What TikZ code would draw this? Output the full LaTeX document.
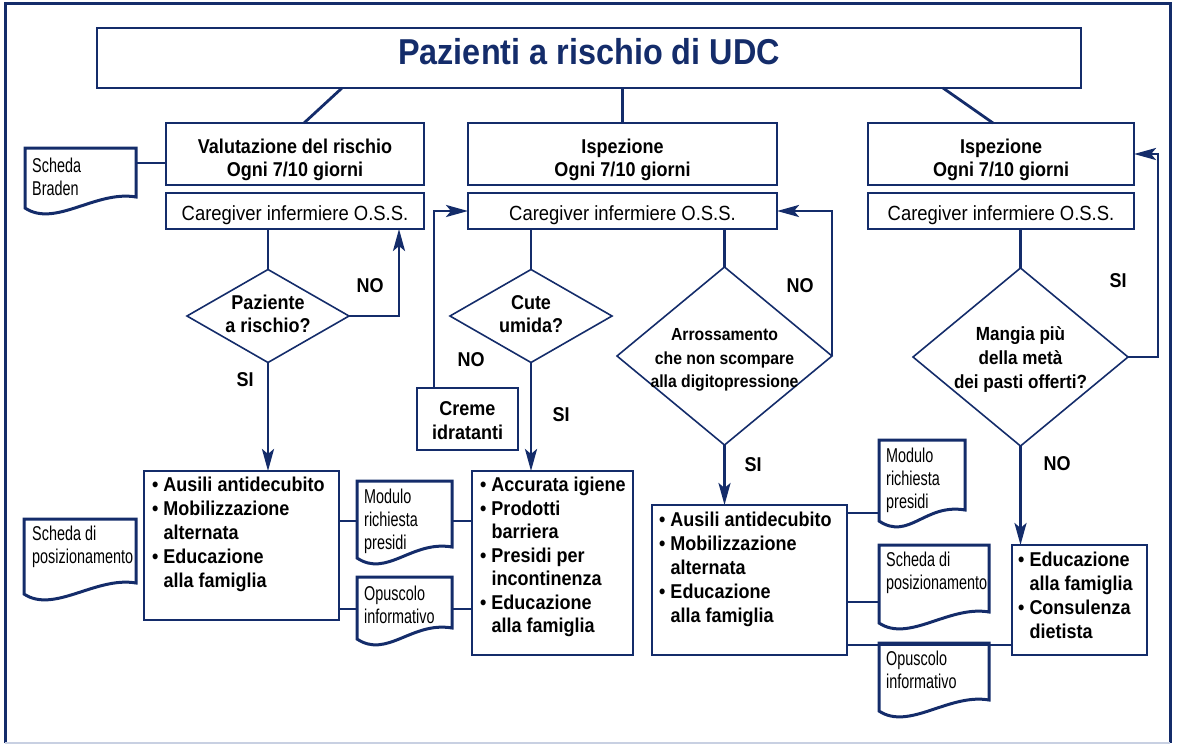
\documentclass[tikz,border=0pt]{standalone}
\usepackage{fontspec}
\setmainfont{Liberation Sans}[FakeStretch=0.9]
\newfontfamily\narrowfont{Liberation Sans}[FakeStretch=0.72]
\usetikzlibrary{shapes.geometric,arrows.meta,calc}
\definecolor{navy}{RGB}{20,44,106}
\definecolor{pale}{RGB}{200,208,226}
\newcommand\docpath[1]{%
  \draw[docline] ([yshift=-11pt]#1.south west) -- (#1.north west) -- (#1.north east) -- (#1.south east)
    .. controls +(-40,-7) and +(30,20) .. ([yshift=-11pt]#1.south west) -- cycle;}

\begin{document}
\begin{tikzpicture}[x=1pt,y=-1pt,
  box/.style={draw=navy,line width=1.6pt,inner sep=0pt,outer sep=0pt},
  listbox/.style={box,line width=2pt},
  dia/.style={draw=navy,line width=1.6pt,diamond,inner sep=0pt,outer sep=0pt},
  doc/.style={inner sep=0pt,outer sep=0pt,anchor=north west},
  docline/.style={draw=navy,line width=3pt,line join=miter},
  link/.style={navy,line width=2.8pt},
  arr/.style={link,-{Stealth[length=22pt,width=12pt,inset=5pt]}},
  head/.style={font=\bfseries\fontsize{20}{23.5}\selectfont,align=center,inner sep=0pt},
  care/.style={font=\fontsize{20.5}{24}\selectfont,inner sep=0pt},
  lst/.style={font=\bfseries\fontsize{20}{24}\selectfont,align=left,anchor=north west,inner sep=0pt},
  doctxt/.style={font=\narrowfont\fontsize{20}{23}\selectfont,align=left,anchor=north west,inner sep=0pt},
  lbl/.style={font=\bfseries\fontsize{20}{24}\selectfont,inner sep=0pt}]
  \useasboundingbox (0,0) rectangle (1177,745);
  \draw[navy,line width=3pt] (5,743) -- (5,3) -- (1170,3) -- (1170,743);
  \draw[pale,line width=2pt] (5,743) -- (1170,743);

  % titolo
  \node[box,line width=2.6pt,minimum width=984pt,minimum height=60pt] (T) at (589,58) {};
  \node[font=\bfseries\fontsize{36}{40}\selectfont,text=navy,inner sep=0pt] (Tt) at (589,52) {Pazienti a rischio di UDC};

  % tre colonne
  \node[box,minimum width=258pt,minimum height=62pt] (V1) at (295,154) {};
  \node[head] (V1t) at (295,160) {Valutazione del rischio\\Ogni 7/10 giorni};
  \node[box,minimum width=258pt,minimum height=36pt] (C1) at (295,211) {};
  \node[care] (C1t) at (295,215) {Caregiver infermiere O.S.S.};
  \node[box,minimum width=309pt,minimum height=62pt] (V2) at (622.5,154) {};
  \node[head] (V2t) at (622.5,160) {Ispezione\\Ogni 7/10 giorni};
  \node[box,minimum width=309pt,minimum height=36pt] (C2) at (622.5,211) {};
  \node[care] (C2t) at (622.5,215) {Caregiver infermiere O.S.S.};
  \node[box,minimum width=266pt,minimum height=62pt] (V3) at (1001,154) {};
  \node[head] (V3t) at (1001,160) {Ispezione\\Ogni 7/10 giorni};
  \node[box,minimum width=266pt,minimum height=36pt] (C3) at (1001,211) {};
  \node[care] (C3t) at (1001,215) {Caregiver infermiere O.S.S.};

  \draw[link] ($(T.south west)+(245,0)$) -- ($(V1.north)+(9,0)$);
  \draw[link] (V2.north |- T.south) -- (V2.north);
  \draw[link] ($(T.south west)+(846,0)$) -- ($(V3.north)+(-8,0)$);

  % domande
  \node[dia,minimum width=162pt,minimum height=93pt] (d1) at (268,316) {};
  \node[head] (d1t) at (268,314) {Paziente\\a rischio?};
  \node[dia,minimum width=162pt,minimum height=93pt] (d2) at (531,316) {};
  \node[head] (d2t) at (531,314) {Cute\\umida?};
  \node[dia,minimum width=215pt,minimum height=178pt] (d3) at (724.5,356) {};
  \node[head,font=\bfseries\fontsize{17.5}{23.3}\selectfont] (d3t) at (724.5,360) {Arrossamento\\che non scompare\\alla digitopressione};
  \node[dia,minimum width=215pt,minimum height=178pt] (d4) at (1020.5,357) {};
  \node[head,font=\bfseries\fontsize{19}{24}\selectfont] (d4t) at (1020.5,359) {Mangia più\\della metà\\dei pasti offerti?};

  \node[box,minimum width=101pt,minimum height=62pt] (K) at (467.5,419) {};
  \node[head,font=\bfseries\fontsize{20}{24}\selectfont] (Kt) at (467.5,421) {Creme\\idratanti};

  % interventi
  \node[listbox,minimum width=195pt,minimum height=149pt] (B1) at (241.5,545.5) {};
  \node[lst] (B1t) at (152,477) {• Ausili antidecubito\\• Mobilizzazione\\\phantom{•} alternata\\• Educazione\\\phantom{•} alla famiglia};
  \node[listbox,minimum width=161pt,minimum height=184pt] (A2) at (552.5,563) {};
  \node[lst,font=\bfseries\fontsize{20}{23.5}\selectfont] (A2t) at (480,477) {• Accurata igiene\\• Prodotti\\\phantom{•} barriera\\• Presidi per\\\phantom{•} incontinenza\\• Educazione\\\phantom{•} alla famiglia};
  \node[listbox,minimum width=195pt,minimum height=150pt] (B2) at (749.5,580) {};
  \node[lst] (B2t) at (659,512) {• Ausili antidecubito\\• Mobilizzazione\\\phantom{•} alternata\\• Educazione\\\phantom{•} alla famiglia};
  \node[listbox,minimum width=135pt,minimum height=110pt] (E) at (1079.5,600) {};
  \node[lst] (Et) at (1018,552) {• Educazione\\\phantom{•} alla famiglia\\• Consulenza\\\phantom{•} dietista};

  % documenti
  \node[doc,minimum width=111pt,minimum height=49pt] (D1) at (25,148) {};
  \node[doctxt] (D1t) at (32,157.5) {Scheda\\Braden};
  \node[doc,minimum width=112pt,minimum height=64pt] (D2) at (24,519) {};
  \node[doctxt] (D2t) at (32,525.5) {Scheda di\\posizionamento};
  \node[doc,minimum width=95pt,minimum height=66pt] (D3) at (357,481) {};
  \node[doctxt] (D3t) at (364,488.5) {Modulo\\richiesta\\presidi};
  \node[doc,minimum width=95pt,minimum height=51pt] (D4) at (357,577) {};
  \node[doctxt] (D4t) at (364,585.5) {Opuscolo\\informativo};
  \node[doc,minimum width=86pt,minimum height=70pt] (D5) at (879,440) {};
  \node[doctxt] (D5t) at (886,447.5) {Modulo\\richiesta\\presidi};
  \node[doc,minimum width=110pt,minimum height=67pt] (D6) at (879,545) {};
  \node[doctxt] (D6t) at (886,551.5) {Scheda di\\posizionamento};
  \node[doc,minimum width=110pt,minimum height=57pt] (D7) at (879,643) {};
  \node[doctxt] (D7t) at (886,650.5) {Opuscolo\\informativo};
  \foreach \d in {D1,D2,D3,D4,D5,D6,D7} {\docpath{\d}}

  \coordinate (jb) at (150,163);
  \coordinate (j1) at (348,521);
  \coordinate (j2) at (348,609);
  \coordinate (j3) at (860,513);
  \coordinate (j4) at (860,602);
  \coordinate (j5) at (930,645);
  \draw[link] (jb -| D1.east) -- (jb -| V1.west);
  \draw[link] (j1 -| B1.east) -- (j1 -| D3.west);
  \draw[link] (j1 -| D3.east) -- (j1 -| A2.west);
  \draw[link] (j2 -| B1.east) -- (j2 -| D4.west);
  \draw[link] (j2 -| D4.east) -- (j2 -| A2.west);
  \draw[link] (j3 -| B2.east) -- (j3 -| D5.west);
  \draw[link] (j4 -| B2.east) -- (j4 -| D6.west);
  \draw[link] (j5 -| B2.east) -- (j5 -| E.west);

  % flussi
  \draw[link] (d1.north |- C1.south) -- (d1.north);
  \draw[link] (d2.north |- C2.south) -- (d2.north);
  \draw[link] (d3.north |- C2.south) -- (d3.north);
  \draw[link] (d4.north |- C3.south) -- (d4.north);
  \draw[arr] (d1.east) -| ($(C1.south east)+(-25,0)$);
  \draw[arr] (d1.south) -- (d1.south |- B1.north);
  \draw[arr] ($(K.north west)+(17,0)$) |- (C2.west);
  \draw[arr] (d2.south) -- (d2.south |- A2.north);
  \draw[arr] (d3.east) |- (C2.east);
  \draw[arr] (d3.south) -- (d3.south |- B2.north);
  \draw[arr] (d4.east) -- ++(30,0) |- (V3.east);
  \draw[arr] (d4.south) -- (d4.south |- E.north);

  \node[lbl] (n1) at (370,286) {NO};
  \node[lbl] (s1) at (245,380) {SI};
  \node[lbl] (n2) at (471,360) {NO};
  \node[lbl] (s2) at (561,415) {SI};
  \node[lbl] (n3) at (800,286) {NO};
  \node[lbl] (s3) at (753,465) {SI};
  \node[lbl] (s4) at (1118,281) {SI};
  \node[lbl] (n4) at (1057,464) {NO};
\end{tikzpicture}
\end{document}
